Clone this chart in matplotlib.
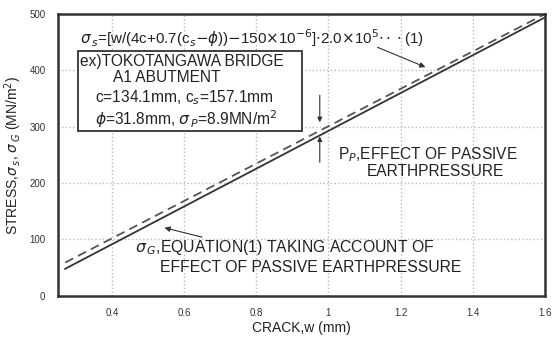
import matplotlib.pyplot as plt

plt.rcParams['font.family'] = ['Liberation Sans', 'DejaVu Sans']

# crack width (mm) and stresses (MN/m2)
crack_w = [0.27, 1.6]
sigma_s = [59, 500]   # dashed, equation (1)
sigma_g = [48, 494]   # solid, with passive earth pressure

xticks = [0.4, 0.6, 0.8, 1.0, 1.2, 1.4, 1.6]
xtick_labels = ["0.4", "0.6", "0.8", "1", "1.2", "1.4", "1.6"]
yticks = [0, 100, 200, 300, 400, 500]

fig = plt.figure(figsize=(5.52, 3.44), dpi=100)
ax = fig.add_axes([0.105, 0.14, 0.882, 0.819])

ax.plot(crack_w, sigma_s, color='#555555', lw=1.3, ls=(0, (5, 3)))
ax.plot(crack_w, sigma_g, color='#333333', lw=1.3)

ax.set_xlim(0.25, 1.6)
ax.set_ylim(0, 500)
ax.set_xticks(xticks, xtick_labels)
ax.set_yticks(yticks)
ax.tick_params(length=0, labelsize=7, pad=9, colors='#333333')
ax.grid(True, ls=':', color='#bbbbbb', lw=1)
for s in ax.spines.values():
    s.set_linewidth(1.8)
    s.set_color('#333333')

ax.set_xlabel("CRACK,w (mm)", fontsize=10, color='#222222', labelpad=2)
ax.set_ylabel(r"STRESS,$\sigma_{\,s}$, $\sigma_{\,G}$ (MN/m$^2$)", fontsize=10,
              color='#222222', labelpad=4)

# formula and arrow
ax.text(0.311, 457, r"$\sigma_{\,s}$=[w/(4c+0.7(c$_s$$-\phi$))$-$150$\times$10$^{-6}$]$\cdot$2.0$\times$10$^5$$\cdot\cdot\cdot$(1)",
        fontsize=10.9, va='center', ha='left', color='#222222')
ax.annotate("", xy=(1.276, 404), xytext=(1.129, 443),
            arrowprops=dict(arrowstyle='-|>', color='#333333', lw=0.8, mutation_scale=8))

# example box
box = plt.Rectangle((0.305, 292), 0.621, 143, fill=True, fc='white',
                    ec='#333333', lw=1.3, zorder=3)
ax.add_patch(box)
box_lines = ["ex)TOKOTANGAWA BRIDGE",
             "A1 ABUTMENT",
             "c=134.1mm, c$_s$=157.1mm",
             r"$\phi$=31.8mm, $\sigma_{\,P}$=8.9MN/m$^2$"]
box_y = [415, 387, 351, 314]
box_x = [0.311, 0.402, 0.599, 0.605]
box_ha = ['left', 'left', 'center', 'center']
for txt, yy, xx, ha in zip(box_lines, box_y, box_x, box_ha):
    ax.text(xx, yy, txt, fontsize=11.2, ha=ha, va='center', color='#222222', zorder=4)

# passive earth pressure arrows
ax.annotate("", xy=(0.976, 303), xytext=(0.976, 361),
            arrowprops=dict(arrowstyle='-|>', color='#333333', lw=0.8, mutation_scale=7))
ax.annotate("", xy=(0.976, 288), xytext=(0.976, 232),
            arrowprops=dict(arrowstyle='-|>', color='#333333', lw=0.8, mutation_scale=7))
ax.text(1.026, 250, "P$_P$,EFFECT OF PASSIVE", fontsize=11.2, ha='left', va='center',
        color='#222222')
ax.text(1.107, 221, "EARTHPRESSURE", fontsize=11.2, ha='left', va='center', color='#222222')

# sigma_G label and arrow
ax.annotate("", xy=(0.538, 122), xytext=(0.657, 103),
            arrowprops=dict(arrowstyle='-|>', color='#333333', lw=0.8, mutation_scale=8))
ax.text(0.463, 85, r"$\sigma_{\,G}$,EQUATION(1) TAKING ACCOUNT OF", fontsize=11.3,
        ha='left', va='center', color='#222222')
ax.text(0.533, 50, "EFFECT OF PASSIVE EARTHPRESSURE", fontsize=11.3,
        ha='left', va='center', color='#222222')

fig.savefig("out.png", dpi=100)
